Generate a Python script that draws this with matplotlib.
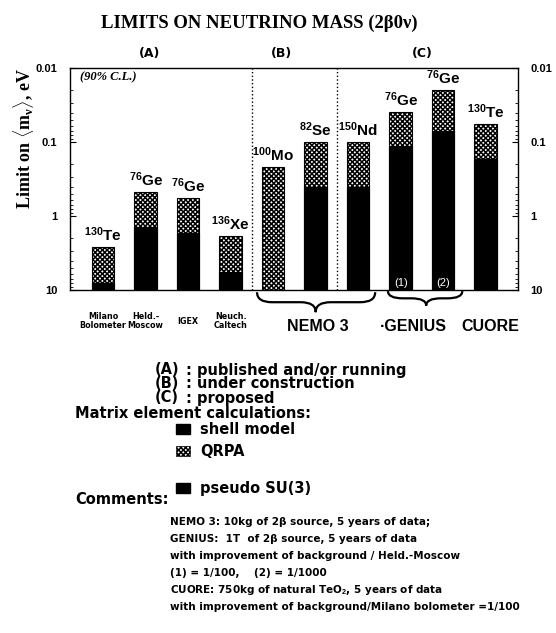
import matplotlib
matplotlib.use('Agg')
import matplotlib.pyplot as plt
from matplotlib.patches import Rectangle
from matplotlib.path import Path
from matplotlib.patches import PathPatch
import matplotlib.transforms as mtransforms

# -----------------------------
# data
# -----------------------------

isotopes = ['130', '76', '76', '136', '100', '82', '150', '76', '76', '130']
elements = ['Te', 'Ge', 'Ge', 'Xe', 'Mo', 'Se', 'Nd', 'Ge', 'Ge', 'Te']
experiments = ['Milano\nBolometer', 'Held.-\nMoscow', 'IGEX', 'Neuch.\nCaltech']

# limits on <m_nu> in eV (bars hang down from 10 eV)
qrpa = [2.6, 0.47, 0.57, 1.85, 0.215, 0.1, 0.1, 0.039, 0.02, 0.057]
shell_model = [8.0, 1.4, 1.7, 5.7, None, 0.4, None, 0.113, 0.07, 0.17]
pseudo_su3 = [None, None, None, None, None, None, 0.4, None, None, None]

y_ticks = [0.01, 0.1, 1, 10]
y_ticklabels = ['0.01', '0.1', '1', '10']

groups = ['(A)', '(B)', '(C)']
group_x = [1.1, 4.2, 7.5]
group_desc = [': published and/or running', ': under construction', ': proposed']

comments = [
    'NEMO 3: 10kg of 2\u03b2 source, 5 years of data;',
    'GENIUS:  1T  of 2\u03b2 source, 5 years of data',
    'with improvement of background / Held.-Moscow',
    '(1) = 1/100,    (2) = 1/1000',
    r'CUORE: 750kg of natural TeO$_\mathbf{2}$, 5 years of data',
    'with improvement of background/Milano bolometer =1/100',
]

# -----------------------------
# style
# -----------------------------

plt.rcParams['font.family'] = ['Liberation Sans', 'DejaVu Sans']
plt.rcParams['mathtext.fontset'] = 'custom'
plt.rcParams['mathtext.bf'] = 'Liberation Sans:bold'
plt.rcParams['mathtext.rm'] = 'Liberation Serif:bold'
plt.rcParams['mathtext.it'] = 'Liberation Serif:bold'
plt.rcParams['hatch.linewidth'] = 1.1

HEAVY = 'DejaVu Sans'   # wide heavy sans for the legend block

W, H = 556, 633
fig = plt.figure(figsize=(W / 100, H / 100), dpi=100)
ax = fig.add_axes([70 / W, 1 - 290 / H, 448 / W, 222 / H])

def fx(px):
    return px / W

def fy(py):
    return 1 - py / H

QRPA_HATCH = 'x' * 7
bar_w = 0.53
xs = list(range(len(qrpa)))

# -----------------------------
# bars
# -----------------------------

for i, x in enumerate(xs):
    ax.bar(x, 10 - qrpa[i], bottom=qrpa[i], width=bar_w, facecolor='white',
           edgecolor='black', hatch=QRPA_HATCH, linewidth=0.8, zorder=2)
    for vals in (shell_model, pseudo_su3):
        if vals[i] is not None:
            ax.bar(x, 10 - vals[i], bottom=vals[i], width=bar_w, color='black',
                   edgecolor='black', linewidth=0.8, zorder=3)
    ax.annotate(r'$\mathbf{^{%s}%s}$' % (isotopes[i], elements[i]),
                xy=(x, qrpa[i]), xytext=(0, 2), textcoords='offset points',
                ha='center', va='bottom', fontsize=11)

# (1) and (2) inside the GENIUS bars
for k, x in enumerate([7, 8]):
    ax.text(x, 8, '(%d)' % (k + 1), color='white', ha='center', va='center',
            fontsize=8, zorder=4)

ax.set_yscale('log')
ax.set_ylim(10, 0.01)
ax.set_xlim(-0.78, 9.76)
ax.set_xticks([])
ax.set_yticks(y_ticks)
ax.set_yticklabels(y_ticklabels, fontweight='bold', fontsize=8)
ax.tick_params(axis='y', which='both', direction='in', right=True, labelright=True)
ax.tick_params(axis='y', which='major', length=4, pad=9)
ax.tick_params(axis='y', which='minor', length=2.5)
ax.yaxis.set_minor_formatter(matplotlib.ticker.NullFormatter())
for s in ax.spines.values():
    s.set_linewidth(1.0)

# group separators
for xv in [3.5, 5.5]:
    ax.axvline(xv, color='black', linestyle=':', linewidth=1.0, zorder=1)

ax.text(0.022, 0.985, '(90% C.L.)', transform=ax.transAxes, ha='left', va='top',
        fontsize=9, fontstyle='italic', fontweight='bold', family='Liberation Serif')

trans = mtransforms.blended_transform_factory(ax.transData, ax.transAxes)
for g, gx in zip(groups, group_x):
    ax.text(gx, 1.035, g, transform=trans, ha='center', va='bottom',
            fontsize=9, fontweight='bold', family=HEAVY)

# experiment names under group (A)
for i, name in enumerate(experiments):
    ax.text(i, -0.14, name, transform=trans, ha='center', va='center',
            fontsize=5.8, fontweight='bold', linespacing=1.0, family=HEAVY)

# curly braces for NEMO 3 and GENIUS
def brace(x1, x2, xm, y0, depth):
    ym = y0 - depth / 2
    yt = y0 - depth
    r = min(0.35, (x2 - x1) / 5)
    verts = [(x1, y0), (x1, ym), (x1 + r, ym),
             (xm - r, ym), (xm, ym), (xm, yt),
             (xm, ym), (xm + r, ym),
             (x2 - r, ym), (x2, ym), (x2, y0)]
    codes = [Path.MOVETO, Path.CURVE3, Path.CURVE3,
             Path.LINETO, Path.CURVE3, Path.CURVE3,
             Path.CURVE3, Path.CURVE3,
             Path.LINETO, Path.CURVE3, Path.CURVE3]
    p = PathPatch(Path(verts, codes), transform=trans, facecolor='none',
                  edgecolor='black', linewidth=1.6, clip_on=False)
    ax.add_patch(p)

brace(xs[4] - 0.38, xs[6] + 0.4, 5.0, -0.01, 0.09)
brace(xs[7] - 0.3, xs[8] + 0.45, 7.6, -0.005, 0.065)

ax.text(5.06, -0.165, 'NEMO 3', transform=trans, ha='center', va='center',
        fontsize=11.5, fontweight='bold')
ax.text(7.3, -0.165, '\u00b7GENIUS', transform=trans, ha='center', va='center',
        fontsize=11.5, fontweight='bold')
ax.text(9.1, -0.165, 'CUORE', transform=trans, ha='center', va='center',
        fontsize=11.5, fontweight='bold')

# -----------------------------
# titles
# -----------------------------

fig.text(fx(259), fy(23), 'LIMITS ON NEUTRINO MASS (2\u03b20\u03bd)', ha='center', va='center',
         fontsize=13.5, fontweight='bold', family=['Liberation Serif', 'DejaVu Serif'])
fig.text(fx(24), fy(138), r'Limit on $\langle \mathrm{m}_{\nu} \rangle$, eV', rotation=90,
         ha='center', va='center', fontsize=13, fontweight='bold', family='Liberation Serif')

# -----------------------------
# legend block
# -----------------------------

for k, (g, d) in enumerate(zip(groups, group_desc)):
    yy = 370 + 14 * k
    fig.text(fx(155), fy(yy), g, ha='left', va='center', fontsize=10.5, fontweight='bold',
             family=HEAVY)
    fig.text(fx(186), fy(yy), d, ha='left', va='center', fontsize=10.5, fontweight='bold',
             family=HEAVY)

fig.text(fx(75), fy(413), 'Matrix element calculations:', ha='left', va='center',
         fontsize=10.5, fontweight='bold', family=HEAVY)

legend_items = [('shell model', 429, None), ('QRPA', 451, QRPA_HATCH), ('pseudo SU(3)', 488, None)]
for name, yy, hatch in legend_items:
    if hatch is None:
        rect = Rectangle((fx(176), fy(yy + 5)), 14 / W, 10 / H, transform=fig.transFigure,
                         facecolor='black', edgecolor='black')
    else:
        rect = Rectangle((fx(176), fy(yy + 5)), 14 / W, 10 / H, transform=fig.transFigure,
                         facecolor='white', edgecolor='black', hatch=hatch, linewidth=0.5)
    fig.add_artist(rect)
    fig.text(fx(200), fy(yy), name, ha='left', va='center', fontsize=10.5, fontweight='bold',
             family=HEAVY)

fig.text(fx(75), fy(499), 'Comments:', ha='left', va='center', fontsize=10.5,
         fontweight='bold', family=HEAVY)
for k, line in enumerate(comments):
    fig.text(fx(170), fy(522 + 17 * k), line, ha='left', va='center', fontsize=7.5,
             fontweight='bold', family=HEAVY)

fig.savefig('out.png', dpi=100)
